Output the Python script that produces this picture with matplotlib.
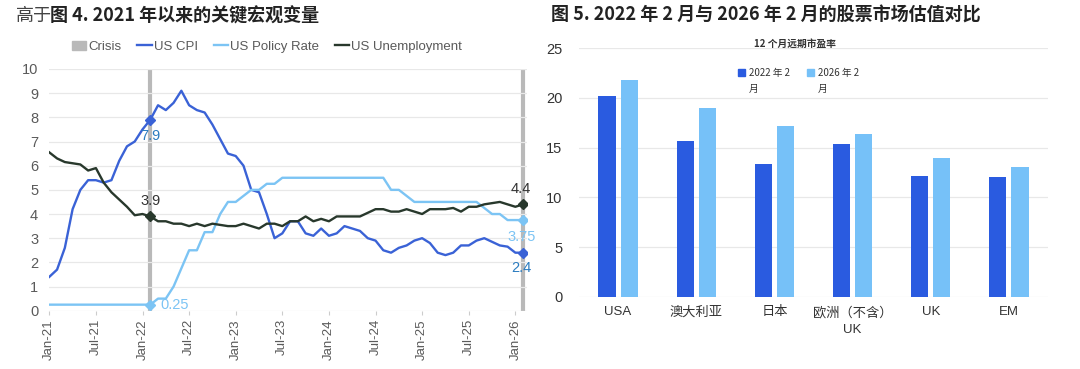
import matplotlib.pyplot as plt
import matplotlib.patches as mpatches
from matplotlib.lines import Line2D

plt.rcParams['font.family'] = ['Liberation Sans', 'Noto Sans CJK SC']

# ---- left chart data (monthly, Jan-21 .. Feb-26) ----
tick_labels = ['Jan-21', 'Jul-21', 'Jan-22', 'Jul-22', 'Jan-23', 'Jul-23',
               'Jan-24', 'Jul-24', 'Jan-25', 'Jul-25', 'Jan-26']
us_cpi = [1.4, 1.7, 2.6, 4.2, 5.0, 5.4, 5.4, 5.3, 5.4, 6.2, 6.8, 7.0,
          7.5, 7.9, 8.5, 8.3, 8.6, 9.1, 8.5, 8.3, 8.2, 7.7, 7.1, 6.5,
          6.4, 6.0, 5.0, 4.9, 4.0, 3.0, 3.2, 3.7, 3.7, 3.2, 3.1, 3.4,
          3.1, 3.2, 3.5, 3.4, 3.3, 3.0, 2.9, 2.5, 2.4, 2.6, 2.7, 2.9,
          3.0, 2.8, 2.4, 2.3, 2.4, 2.7, 2.7, 2.9, 3.0, 2.85, 2.7, 2.65,
          2.4, 2.4]
policy_rate = [0.25, 0.25, 0.25, 0.25, 0.25, 0.25, 0.25, 0.25, 0.25, 0.25, 0.25, 0.25,
               0.25, 0.25, 0.5, 0.5, 1.0, 1.75, 2.5, 2.5, 3.25, 3.25, 4.0, 4.5,
               4.5, 4.75, 5.0, 5.0, 5.25, 5.25, 5.5, 5.5, 5.5, 5.5, 5.5, 5.5,
               5.5, 5.5, 5.5, 5.5, 5.5, 5.5, 5.5, 5.5, 5.0, 5.0, 4.75, 4.5,
               4.5, 4.5, 4.5, 4.5, 4.5, 4.5, 4.5, 4.5, 4.25, 4.0, 4.0, 3.75,
               3.75, 3.75]
unemployment = [6.55, 6.3, 6.15, 6.1, 6.05, 5.8, 5.9, 5.3, 4.9, 4.6, 4.3, 3.95,
                4.0, 3.9, 3.7, 3.7, 3.6, 3.6, 3.5, 3.6, 3.5, 3.6, 3.55, 3.5,
                3.5, 3.6, 3.5, 3.4, 3.6, 3.6, 3.5, 3.7, 3.7, 3.9, 3.7, 3.8,
                3.7, 3.9, 3.9, 3.9, 3.9, 4.05, 4.2, 4.2, 4.1, 4.1, 4.2, 4.1,
                4.0, 4.2, 4.2, 4.2, 4.25, 4.1, 4.3, 4.3, 4.4, 4.45, 4.5, 4.4,
                4.3, 4.4]
crisis_idx = [13, 61]

# ---- right chart data ----
regions = ['USA', '澳大利亚', '日本', '欧洲（不含）\nUK', 'UK', 'EM']
pe_2022 = [20.2, 15.7, 13.4, 15.4, 12.1, 12.0]
pe_2026 = [21.8, 19.0, 17.2, 16.4, 14.0, 13.1]

W, H = 1080, 369
fig = plt.figure(figsize=(W / 100, H / 100), dpi=100)

def box(l, t, r, b):
    return [l / W, 1 - b / H, (r - l) / W, (b - t) / H]

c_cpi = '#3a62d6'
c_pol = '#7cc4f4'
c_une = '#28382c'
c_crisis = '#b9b9b9'
c_grid = '#e8e8e8'
c_tick = '#5a5a5a'

# titles
fig.text(16 / W, 1 - 16 / H, '高于', fontsize=13, color='#444444',
         family=['Noto Sans CJK SC'], va='center', ha='left')
fig.text(50 / W, 1 - 16 / H, '图 4. 2021 年以来的关键宏观变量', fontsize=13,
         fontweight='bold', color='#222222', family=['Noto Sans CJK SC'],
         va='center', ha='left')
fig.text(551 / W, 1 - 15 / H, '图 5. 2022 年 2 月与 2026 年 2 月的股票市场估值对比',
         fontsize=13, fontweight='bold', color='#222222',
         family=['Noto Sans CJK SC'], va='center', ha='left')

# ---------------- left chart ----------------
ax = fig.add_axes(box(49.3, 69, 527, 310.7))
x = list(range(len(us_cpi)))
for ci in crisis_idx:
    ax.axvline(ci, color=c_crisis, lw=3, zorder=1)
ax.plot(x, us_cpi, color=c_cpi, lw=1.7, zorder=3)
ax.plot(x, policy_rate, color=c_pol, lw=1.7, zorder=3)
ax.plot(x, unemployment, color=c_une, lw=1.7, zorder=3)
for ci in crisis_idx:
    ax.plot(ci, us_cpi[ci], marker='D', ms=5, color=c_cpi, zorder=4)
    ax.plot(ci, policy_rate[ci], marker='D', ms=5, color=c_pol, zorder=4)
    ax.plot(ci, unemployment[ci], marker='D', ms=5, color=c_une, zorder=4)

lab_blue = '#2b7cc0'
i0, i1 = crisis_idx
ax.annotate(f'{us_cpi[i0]:g}', (i0, us_cpi[i0]), xytext=(0, -12),
            textcoords='offset points', ha='center', va='center',
            fontsize=10.5, color=lab_blue)
ax.annotate(f'{unemployment[i0]:g}', (i0, unemployment[i0]), xytext=(0, 11),
            textcoords='offset points', ha='center', va='center',
            fontsize=10.5, color='#333333')
ax.annotate(f'{policy_rate[i0]:g}', (i0, policy_rate[i0]), xytext=(7, 0),
            textcoords='offset points', ha='left', va='center',
            fontsize=10.5, color=c_pol)
ax.annotate(f'{unemployment[i1]:g}', (i1, unemployment[i1]), xytext=(-2, 11),
            textcoords='offset points', ha='center', va='center',
            fontsize=10.5, color='#333333')
ax.annotate(f'{policy_rate[i1]:g}', (i1, policy_rate[i1]), xytext=(-1, -12),
            textcoords='offset points', ha='center', va='center',
            fontsize=10.5, color=c_pol)
ax.annotate(f'{us_cpi[i1]:g}', (i1, us_cpi[i1]), xytext=(-1, -11),
            textcoords='offset points', ha='center', va='center',
            fontsize=10.5, color=lab_blue)

ax.set_xlim(0, 61.5)
ax.set_ylim(0, 10)
ax.set_yticks(range(0, 11))
ax.set_xticks(range(0, 61, 6))
ax.set_xticklabels(tick_labels, rotation=90)
ax.grid(axis='y', color=c_grid, lw=0.9, zorder=0)
for s in ax.spines.values():
    s.set_visible(False)
ax.tick_params(axis='y', length=0, pad=8, labelsize=10.5, labelcolor=c_tick)
ax.tick_params(axis='x', length=3, color='#cccccc', pad=3, labelsize=9.5,
               labelcolor=c_tick)

handles = [mpatches.Patch(color=c_crisis),
           Line2D([], [], color=c_cpi, lw=1.7),
           Line2D([], [], color=c_pol, lw=1.7),
           Line2D([], [], color=c_une, lw=1.7)]
fig.legend(handles, ['Crisis', 'US CPI', 'US Policy Rate', 'US Unemployment'],
           loc='center', bbox_to_anchor=(267 / W, 1 - 46.7 / H), ncol=4,
           frameon=False, fontsize=9.5, handlelength=1.1, handleheight=0.7,
           handletextpad=0.15, columnspacing=1.2, labelcolor=c_tick)

# ---------------- right chart ----------------
c_d = '#2a5be0'
c_l = '#76c1f8'
bx = fig.add_axes(box(579, 48.3, 1048, 296.7))
pos = list(range(len(regions)))
bw = 0.22
bx.bar([p - 0.142 for p in pos], pe_2022, width=bw, color=c_d, zorder=3)
bx.bar([p + 0.142 for p in pos], pe_2026, width=bw, color=c_l, zorder=3)
bx.set_xlim(-0.5, 5.5)
bx.set_ylim(0, 25)
bx.set_yticks(range(0, 26, 5))
bx.set_xticks(pos)
bx.set_xticklabels(regions, linespacing=1.5)
bx.grid(axis='y', color=c_grid, lw=0.9, zorder=0)
for s in bx.spines.values():
    s.set_visible(False)
bx.tick_params(axis='y', length=0, pad=12, labelsize=10.5, labelcolor='#333333')
bx.tick_params(axis='x', length=0, pad=7, labelsize=9.5, labelcolor='#333333')

fig.text(795 / W, 1 - 44.3 / H, '12 个月远期市盈率', fontsize=7, fontweight='bold',
         color='#333333', family=['Noto Sans CJK SC'], ha='center', va='center')
for lx, col, txt in [(741.7, c_d, '2022 年 2\n月'), (810.7, c_l, '2026 年 2\n月')]:
    fig.patches.append(mpatches.Rectangle(((lx - 3.5) / W, 1 - 76 / H), 7 / W, 7 / H,
                                          color=col, transform=fig.transFigure))
    fig.text((lx + 7) / W, 1 - 68 / H, txt, fontsize=7, color='#333333',
             family=['Noto Sans CJK SC'], ha='left', va='top', linespacing=1.7)

fig.savefig('out.png', dpi=100)
